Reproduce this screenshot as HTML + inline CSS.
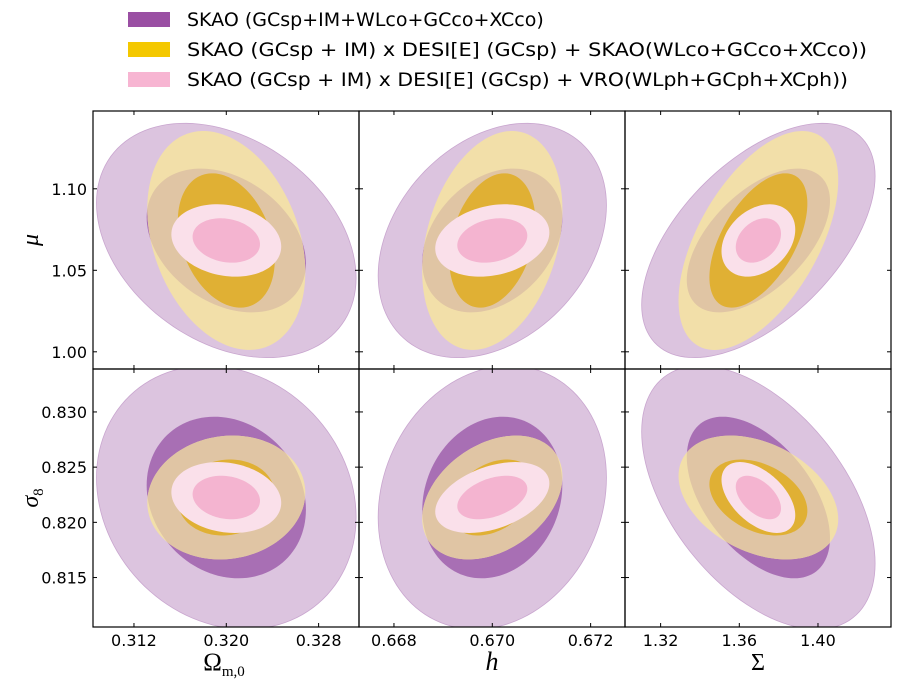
<!DOCTYPE html>
<html><head><meta charset="utf-8"><style>
html,body{margin:0;padding:0;background:#fff;}
svg{display:block;}
text{font-family:"DejaVu Sans","Liberation Sans",sans-serif;fill:#000;}
text.serif{font-family:"Liberation Serif","DejaVu Serif",serif;}
</style></head><body>
<svg id="fig" width="906" height="696" viewBox="0 0 906 696">
<g>
<g><rect x="128" y="12" width="42" height="15" fill="#9a4fa3"/><text x="187" y="26" font-size="19">SKAO (GCsp+IM+WLco+GCco+XCco)</text></g>
<g><rect x="128" y="42" width="42" height="15" fill="#f4c800"/><text x="187" y="56" font-size="19" textLength="680" lengthAdjust="spacingAndGlyphs">SKAO (GCsp + IM) x DESI[E] (GCsp) + SKAO(WLco+GCco+XCco))</text></g>
<g><rect x="128" y="72" width="42" height="15" fill="#f7b5d2"/><text x="187" y="86" font-size="19" textLength="661" lengthAdjust="spacingAndGlyphs">SKAO (GCsp + IM) x DESI[E] (GCsp) + VRO(WLph+GCph+XCph))</text></g>
</g>
<g id="panels"></g>
<text class="serif" x="38" y="240" font-size="24" font-style="italic" text-anchor="middle" transform="rotate(-90 38 240)">μ</text>
<text class="serif" x="38" y="498" font-size="24" font-style="italic" text-anchor="middle" transform="rotate(-90 38 498)">σ<tspan font-size="15" font-style="normal" dy="5">8</tspan></text>
<text class="serif" x="224" y="670" font-size="25" text-anchor="middle">Ω<tspan font-size="15" dy="6">m,0</tspan></text>
<text class="serif" x="492" y="670" font-size="26" font-style="italic" text-anchor="middle">h</text>
<text class="serif" x="758" y="670" font-size="24" text-anchor="middle">Σ</text>
</svg>
<script>
// ---- data ----
const xParams = ["omega_m0","h","Sigma"];
const yParams = ["mu","sigma8"];
const fiducialX = [0.320, 0.670, 1.3697];
const fiducialY = [1.0683, 0.82225];
const xLimits = [[0.30845,0.3315],[0.667289,0.672699],[1.30189,1.43712]];
const yLimits = [[0.98945,1.14773],[0.81052,0.83389]];
const xTicks = [[0.312,0.320,0.328],[0.668,0.670,0.672],[1.32,1.36,1.40]];
const xTickLabels = [["0.312","0.320","0.328"],["0.668","0.670","0.672"],["1.32","1.36","1.40"]];
const yTicks = [[1.00,1.05,1.10],[0.815,0.820,0.825,0.830]];
const yTickLabels = [["1.00","1.05","1.10"],["0.815","0.820","0.825","0.830"]];
const seriesNames = ["skao","skao-desi","skao-desi-vro"];
// 1-sigma-contour half-extents per series
const errX_skao = [0.0069, 0.001424, 0.0364];
const errX_desi = [0.0042, 0.000875, 0.0249];
const errX_vro  = [0.00292, 0.000712, 0.0115];
const errY_skao = [0.0441, 0.00732];
const errY_desi = [0.0412, 0.00344];
const errY_vro  = [0.01362, 0.00197];
// correlation [row][col]
const rho_skao = [[-0.32,0.30,0.55],[-0.15,0.15,-0.50]];
const rho_desi = [[-0.29,0.28,0.55],[0.08,0.34,-0.35]];
const rho_vro  = [[-0.17,0.22,0.30],[-0.15,0.40,-0.50]];
const outerScale = 1.63;

const NS="http://www.w3.org/2000/svg";
const colX=[93,359,625], W=266, rowY=[111,369], H=258;
const colors=[["#dcc4df","#a86fb4"],["#f2dfa9","#e0b034"],["#fae0ea","#f4b4d0"]];
const TAN="#e0c5a4";
const errX=[errX_skao,errX_desi,errX_vro], errY=[errY_skao,errY_desi,errY_vro], rhos=[rho_skao,rho_desi,rho_vro];
const root=document.getElementById('panels');
function mk(tag,attrs,parent){const e=document.createElementNS(NS,tag);for(const k in attrs)e.setAttribute(k,attrs[k]);parent.appendChild(e);return e;}
for(let r=0;r<2;r++)for(let c=0;c<3;c++){
  const x0=colX[c],y0=rowY[r];
  const sx=v=>x0+(v-xLimits[c][0])/(xLimits[c][1]-xLimits[c][0])*W;
  const sy=v=>y0+H-(v-yLimits[r][0])/(yLimits[r][1]-yLimits[r][0])*H;
  const g=mk('g',{},root);
  
  
  const cid='clip'+r+c;
  const cp=mk('clipPath',{id:cid},g);mk('rect',{x:x0,y:y0,width:W,height:H},cp);
  const cg=mk('g',{'clip-path':'url(#'+cid+')'},g);
  function ell(s,k){
    const hx=errX[s][c],hy=errY[s][r],rho=rhos[s][r][c];
    let d='';
    for(let i=0;i<=120;i++){const t=i/120*2*Math.PI;
      const xv=fiducialX[c]+k*hx*Math.cos(t);
      const yv=fiducialY[r]+k*hy*(rho*Math.cos(t)+Math.sqrt(1-rho*rho)*Math.sin(t));
      d+=(i?'L':'M')+sx(xv).toFixed(2)+','+sy(yv).toFixed(2);}
    return d+'Z';
  }
  for(let s=0;s<3;s++){
    for(let lvl=0;lvl<2;lvl++){
      const d=ell(s,lvl===0?outerScale:1);
      const p=mk('path',{d:d,fill:colors[s][lvl]},cg);
      if(s===0&&lvl===0){p.setAttribute('stroke','#c9a6cf');p.setAttribute('stroke-width','0.8');}
      
      
      if(s===1&&lvl===0){
        const oc='ov'+r+c;
        const ocp=mk('clipPath',{id:oc},g);mk('path',{d:d},ocp);
        const t=mk('path',{d:ell(0,1),fill:TAN,'clip-path':'url(#'+oc+')'},cg);
        
        
      }
    }
  }
  mk('rect',{x:x0,y:y0,width:W,height:H,fill:'none',stroke:'#000','stroke-width':1.2},g);
  xTicks[c].forEach((v,i)=>{const X=sx(v);
    mk('line',{x1:X,x2:X,y1:y0+H,y2:y0+H-4,stroke:'#000'},g);
    mk('line',{x1:X,x2:X,y1:y0,y2:y0+4,stroke:'#000'},g);
    if(r===1){const t=mk('text',{x:X,y:y0+H+19,'font-size':16,'text-anchor':'middle'},g);t.textContent=xTickLabels[c][i];
      
      }
  });
  yTicks[r].forEach((v,i)=>{const Y=sy(v);
    mk('line',{x1:x0,x2:x0+4,y1:Y,y2:Y,stroke:'#000'},g);
    mk('line',{x1:x0+W,x2:x0+W-4,y1:Y,y2:Y,stroke:'#000'},g);
    if(c===0){const t=mk('text',{x:x0-6,y:Y+6,'font-size':16,'text-anchor':'end'},g);t.textContent=yTickLabels[r][i];
      
      }
  });
}
</script>
</body></html>
